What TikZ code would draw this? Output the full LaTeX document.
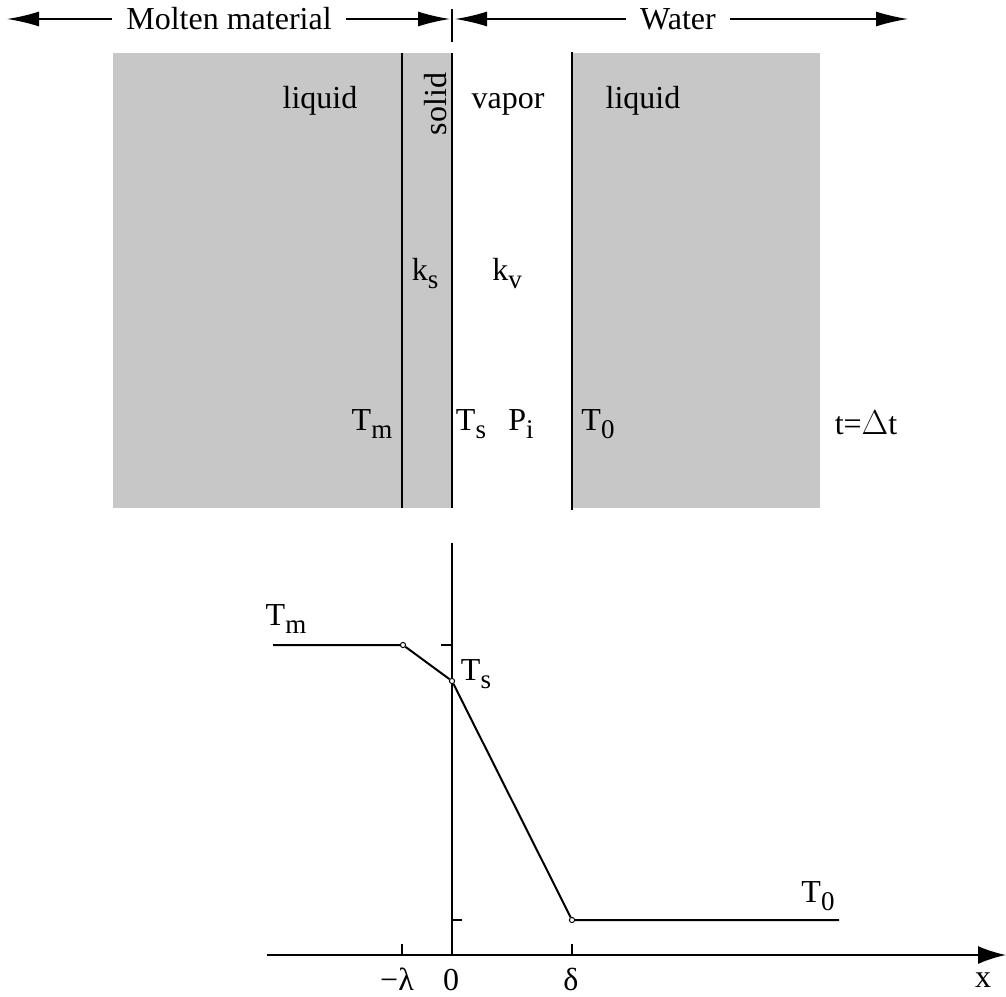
\documentclass[tikz,border=0pt]{standalone}
\usepackage{fontspec}
\setmainfont{Liberation Serif}
\usetikzlibrary{arrows.meta}
\newcommand{\lsub}[1]{\raisebox{-0.6ex}{\fontsize{13.5}{14}\selectfont #1}}
\begin{document}
\begin{tikzpicture}[x=0.5pt,y=-0.5pt,
  lbl/.style={inner sep=0pt, anchor=base, font=\fontsize{16}{18}\selectfont},
  toplbl/.style={inner sep=7pt, font=\fontsize{16}{18}\selectfont},
  pt/.style={circle, draw, fill=white, inner sep=0pt, minimum size=2.6pt, line width=0.5pt},
  bigarrow/.style={-{Latex[length=16pt,width=7.5pt]}, line width=0.8pt},
  wall/.style={line width=1.4pt},
  curve/.style={line width=1pt}]
\useasboundingbox (0,0) rectangle (1006,996);
% top arrows
\node[toplbl] (molten) at (229,19) {Molten material};
\node[toplbl] (water) at (678,19) {Water};
\coordinate (mleft) at (7,19);
\coordinate (mright) at (450,19);
\coordinate (wleft) at (455,19);
\coordinate (wright) at (908,19);
\coordinate (tkT) at (452,9);
\coordinate (tkB) at (452,42);
\draw[bigarrow] (molten.west) -- (mleft);
\draw[bigarrow] (molten.east) -- (mright);
\draw[bigarrow] (water.west) -- (wleft);
\draw[bigarrow] (water.east) -- (wright);
\draw[line width=0.6pt] (tkT) -- (tkB);
% layers
\fill[black!22] (113,53) rectangle (452,508);
\fill[black!22] (572,53) rectangle (820,508);
\coordinate (w1t) at (402,53);
\coordinate (w1b) at (402,508);
\coordinate (w2t) at (452,53);
\coordinate (w2b) at (452,508);
\coordinate (w3t) at (572,52);
\coordinate (w3b) at (572,510);
\draw[wall] (w1t) -- (w1b);
\draw[wall] (w2t) -- (w2b);
\draw[wall] (w3t) -- (w3b);
\node[lbl] (liqL) at (320,108) {liquid};
\node[lbl, anchor=center, rotate=90] (solid) at (436,104) {solid};
\node[lbl] (vapor) at (508,108) {vapor};
\node[lbl] (liqR) at (643,108) {liquid};
\node[lbl] (ks) at (425,280) {k\lsub{s}};
\node[lbl] (kv) at (507,280) {k\lsub{v}};
\node[lbl] (Tm) at (372,430) {T\lsub{m}};
\node[lbl] (Ts) at (471,430) {T\lsub{s}};
\node[lbl] (Pi) at (521,430) {P\lsub{i}};
\node[lbl] (T0) at (598,430) {T\lsub{0}};
\node[lbl] (tdt) at (866,434) {t=$\Delta$t};
% temperature profile
\coordinate (ytop) at (452,543);
\coordinate (orig) at (452,955);
\coordinate (xl) at (267,955);
\coordinate (xr) at (1006,955);
\draw[curve] (orig) -- (ytop);
\draw[curve, -{Latex[length=14pt,width=9pt]}] (xl) -- (xr);
\coordinate (lamT) at (402,944);
\coordinate (lamB) at (402,955);
\coordinate (delT) at (572,944);
\coordinate (delB) at (572,955);
\draw[curve] (lamT) -- (lamB);
\draw[curve] (delT) -- (delB);
\coordinate (tmL) at (441,645);
\coordinate (tmR) at (452,645);
\coordinate (t0L) at (452,920);
\coordinate (t0R) at (462,920);
\draw[curve] (tmL) -- (tmR);
\draw[curve] (t0L) -- (t0R);
\coordinate (cA) at (273,645);
\node[pt] (cB) at (403,645) {};
\node[pt] (cC) at (452,681) {};
\node[pt] (cD) at (572,920) {};
\coordinate (cE) at (839,920);
\draw[curve] (cA) -- (cB) -- (cC) -- (cD) -- (cE);
\node[lbl] (pTm) at (286,625) {T\lsub{m}};
\node[lbl] (pTs) at (476,680) {T\lsub{s}};
\node[lbl] (pT0) at (818,902) {T\lsub{0}};
\node[lbl] (lam) at (397,990) {−λ};
\node[lbl] (zero) at (451,990) {0};
\node[lbl] (del) at (571,990) {δ};
\node[lbl] (xlab) at (983,987) {x};
\end{tikzpicture}
\end{document}
